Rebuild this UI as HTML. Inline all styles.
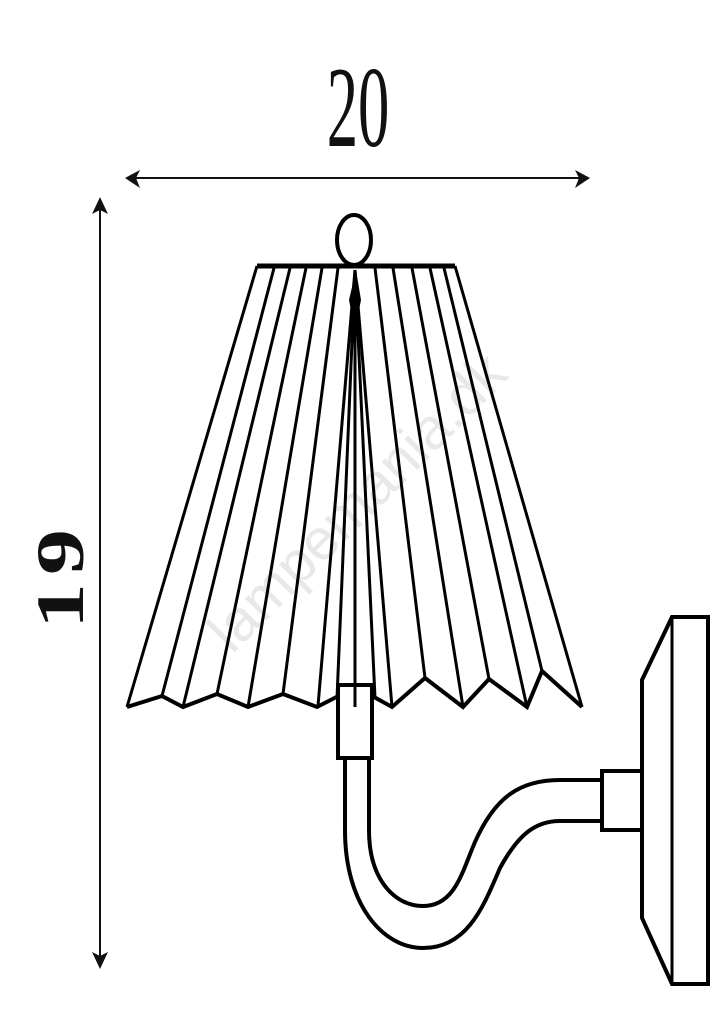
<!DOCTYPE html>
<html><head><meta charset="utf-8"><style>
html,body{margin:0;padding:0;background:#fff;}
svg{display:block;}
</style></head><body>
<svg width="724" height="1024" viewBox="0 0 724 1024" xmlns="http://www.w3.org/2000/svg">
<rect width="724" height="1024" fill="#fff"/>
<!-- watermark -->
<text x="0" y="0" transform="translate(232,655) rotate(-45)" font-family="Liberation Sans, sans-serif" font-size="58" fill="#e8e8e8">lampemania.dk</text>
<!-- dimension 20 -->
<text x="0" y="0" transform="translate(358,146) scale(0.54,1)" text-anchor="middle" font-family="Liberation Serif, serif" font-size="116" fill="#111">20</text>
<line x1="132" y1="178" x2="583" y2="178" stroke="#111" stroke-width="2"/>
<polygon points="125,178 140,170 136,178 140,188" fill="#111"/>
<polygon points="590,178 575,170 579,178 575,188" fill="#111"/>
<!-- dimension 19 -->
<line x1="100" y1="204" x2="100" y2="962" stroke="#111" stroke-width="2"/>
<polygon points="100,197 92,214 100,210 108,214" fill="#111"/>
<polygon points="100,969 92,952 100,956 108,952" fill="#111"/>
<text x="0" y="0" transform="translate(83,629) rotate(-90) scale(1.35,1)" font-family="Liberation Serif, serif" font-weight="bold" font-size="68" letter-spacing="6" fill="#111">19</text>
<g fill="none" stroke="#000" stroke-linejoin="miter">
<!-- finial -->
<ellipse cx="354" cy="240" rx="17" ry="25" stroke-width="4"/>
<!-- top bar -->
<line x1="257" y1="266" x2="455" y2="266" stroke-width="5"/>
<!-- pleats -->
<g stroke-width="3">
<line x1="257" y1="266" x2="127" y2="707"/>
<line x1="274" y1="268" x2="162" y2="696"/>
<line x1="290" y1="268" x2="183" y2="707"/>
<line x1="306" y1="268" x2="217" y2="694"/>
<line x1="322" y1="268" x2="248" y2="707"/>
<line x1="338" y1="268" x2="283" y2="694"/>
<line x1="355" y1="270" x2="318" y2="706"/>
<line x1="355" y1="270" x2="337" y2="698"/>
<line x1="355" y1="270" x2="355" y2="707"/>
<line x1="355" y1="270" x2="375" y2="698"/>
<line x1="355" y1="270" x2="392" y2="707"/>
<line x1="375" y1="268" x2="425" y2="678"/>
<line x1="393" y1="268" x2="463" y2="707"/>
<line x1="412" y1="268" x2="489" y2="679"/>
<line x1="430" y1="268" x2="527" y2="707"/>
<line x1="444" y1="268" x2="542" y2="671"/>
<line x1="455" y1="266" x2="582" y2="707"/>
</g>
<polyline stroke-width="4" points="127,707 162,696 183,707 217,694 248,707 283,694 317,707 356,687 392,707 425,678 463,707 489,679 527,707 542,671 582,707"/>
<polygon points="356,270 349,300 355,330 361,300" fill="#000" stroke="none"/>
<!-- socket -->
<rect x="338" y="685" width="34" height="73" stroke-width="4" fill="#fff"/>
<line x1="355" y1="685" x2="355" y2="707" stroke-width="3"/>
<!-- arm -->
<path stroke-width="4" d="M345,758 L345,830 C345,905 383,948 423,948 C468,948 484,905 500,868 C518,835 535,821 560,821 L602,821"/>
<path stroke-width="4" d="M369,758 L369,830 C369,880 395,906 423,906 C455,906 462,872 475,842 C495,797 520,780 560,780 L602,780"/>
<!-- collar -->
<rect x="602" y="771" width="40" height="59" stroke-width="4" fill="#fff"/>
<!-- wall plate -->
<polygon stroke-width="4" fill="#fff" points="642,680 672,617 708,617 708,984 672,984 642,918"/>
<line x1="672" y1="617" x2="672" y2="984" stroke-width="3"/>
</g>
</svg>
</body></html>
